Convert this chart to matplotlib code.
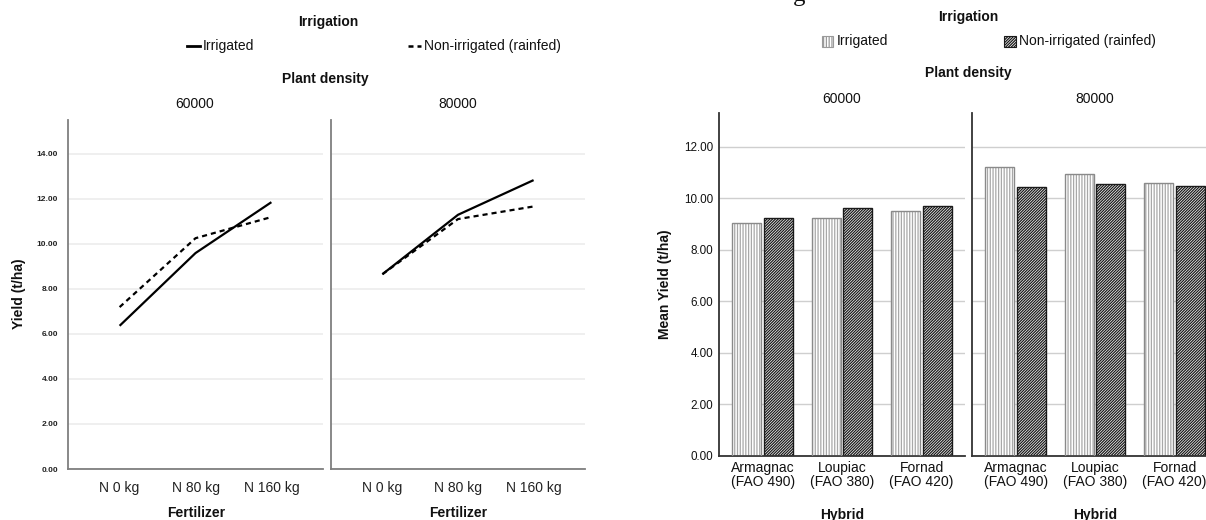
import matplotlib
matplotlib.use('Agg')
import matplotlib.pyplot as plt
from matplotlib.lines import Line2D
from matplotlib.patches import Rectangle
import numpy as np

plt.rcParams['font.family'] = ['Liberation Sans', 'DejaVu Sans']
plt.rcParams['hatch.linewidth'] = 0.9

# ---- data ----
fertilizer = ['N 0 kg', 'N 80 kg', 'N 160 kg']
densities = ['60000', '80000']
yield_irr_60 = [6.36, 9.59, 11.85]
yield_rain_60 = [7.19, 10.25, 11.19]
yield_irr_80 = [8.65, 11.29, 12.83]
yield_rain_80 = [8.65, 11.10, 11.66]

hybrids = ['Armagnac\n(FAO 490)', 'Loupiac\n(FAO 380)', 'Fornad\n(FAO 420)']
mean_irr_60 = [9.03, 9.22, 9.52]
mean_rain_60 = [9.22, 9.63, 9.71]
mean_irr_80 = [11.20, 10.94, 10.58]
mean_rain_80 = [10.42, 10.54, 10.46]

W, H = 1206, 520
fig = plt.figure(figsize=(W / 100, H / 100), dpi=100)

DOTS = '||||||'
STRIPES = '////////////'


def box(l, t, r, b):
    return [l / W, 1 - b / H, (r - l) / W, (b - t) / H]


def ftext(x, y, s, **kw):
    kw.setdefault('ha', 'center')
    kw.setdefault('va', 'center')
    kw.setdefault('fontsize', 10)
    kw.setdefault('color', '#111111')
    fig.text(x / W, 1 - y / H, s, **kw)


# ---- left chart: line plot ----
axL = [fig.add_axes(box(68, 120, 323, 469)), fig.add_axes(box(331, 120, 585, 469))]
line_data = [(yield_irr_60, yield_rain_60), (yield_irr_80, yield_rain_80)]
for i, ax in enumerate(axL):
    irr, rain = line_data[i]
    x = np.arange(len(fertilizer))
    ax.plot(x, irr, color='black', lw=1.6, solid_capstyle='butt')
    ax.plot(x, rain, color='black', lw=1.6, ls=(0, (2.3, 1.8)))
    ax.set_xlim(-0.68, 2.68)
    ax.set_ylim(0, 15.5)
    ax.set_yticks(np.arange(0, 15, 2))
    ax.yaxis.grid(True, color='#ececec', lw=1.2)
    ax.set_axisbelow(True)
    for s in ['top', 'right']:
        ax.spines[s].set_visible(False)
    for s in ['left', 'bottom']:
        ax.spines[s].set_color('#7f7f7f')
        ax.spines[s].set_linewidth(1.3)
    ax.set_xticks(x)
    ax.set_xticklabels(fertilizer, fontsize=10, color='#222222')
    ax.tick_params(axis='x', length=0, pad=8.5)
    ax.tick_params(axis='y', length=0, pad=7)
    if i == 0:
        ax.set_yticklabels([f'{v:.2f}' for v in ax.get_yticks()], fontsize=6,
                           fontweight='bold', color='#222222')
    else:
        ax.set_yticklabels([])

ftext(328, 22, 'Irrigation', fontweight='bold')
fig.add_artist(Line2D([187 / W, 200 / W], [1 - 46 / H, 1 - 46 / H], color='black',
                      lw=2, transform=fig.transFigure))
ftext(203, 46, 'Irrigated', ha='left')
fig.add_artist(Line2D([408 / W, 421 / W], [1 - 46 / H, 1 - 46 / H], color='black',
                      lw=1.8, ls=(0, (2, 1.6)), transform=fig.transFigure))
ftext(424, 46, 'Non-irrigated (rainfed)', ha='left')
ftext(325, 79, 'Plant density', fontweight='bold')
ftext(195, 104, densities[0])
ftext(458, 104, densities[1])
ftext(19, 294, 'Yield (t/ha)', fontweight='bold', rotation=90)
ftext(196, 513, 'Fertilizer', fontweight='bold')
ftext(458, 513, 'Fertilizer', fontweight='bold')

# ---- right chart: grouped bars ----
axR = [fig.add_axes(box(719.3, 113.3, 965, 455.7)), fig.add_axes(box(972.3, 113.3, 1218, 455.7))]
bar_data = [(mean_irr_60, mean_rain_60), (mean_irr_80, mean_rain_80)]
bw, off = 0.365, 0.198
for i, ax in enumerate(axR):
    irr, rain = bar_data[i]
    x = np.arange(len(hybrids))
    ax.bar(x - off, irr, width=bw, facecolor='white', edgecolor='#a8a8a8',
           hatch=DOTS, lw=0, zorder=2)
    ax.bar(x - off, irr, width=bw, fill=False, edgecolor='#8a8a8a', lw=1, zorder=3)
    ax.bar(x + off, rain, width=bw, facecolor='white', edgecolor='#1a1a1a',
           hatch=STRIPES, lw=1, zorder=2)
    ax.set_xlim(-0.545, 2.545)
    ax.set_ylim(0, 13.3)
    ax.set_yticks(np.arange(0, 13, 2))
    ax.yaxis.grid(True, color='#cfcfcf', lw=1)
    ax.set_axisbelow(True)
    for s in ['top', 'right']:
        ax.spines[s].set_visible(False)
    for s in ['left', 'bottom']:
        ax.spines[s].set_color('#333333')
        ax.spines[s].set_linewidth(1.3)
    ax.set_xticks(x)
    ax.set_xticklabels(hybrids, fontsize=10, color='#111111', linespacing=0.95)
    ax.tick_params(axis='x', length=0, pad=4)
    ax.tick_params(axis='y', length=0, pad=4.5)
    if i == 0:
        ax.set_yticklabels([f'{v:.2f}' for v in ax.get_yticks()], fontsize=8.4,
                           color='#111111')
    else:
        ax.set_yticklabels([])

ftext(968, 17, 'Irrigation', fontweight='bold')
fig.add_artist(Rectangle((822 / W, 1 - 47 / H), 11 / W, 11 / H, facecolor='white',
                         edgecolor='#9a9a9a', hatch=DOTS, lw=0.8, transform=fig.transFigure))
ftext(837, 41, 'Irrigated', ha='left')
fig.add_artist(Rectangle((1004 / W, 1 - 47 / H), 12 / W, 11 / H, facecolor='white',
                         edgecolor='#1a1a1a', hatch=STRIPES, lw=0.8, transform=fig.transFigure))
ftext(1019, 41, 'Non-irrigated (rainfed)', ha='left')
ftext(968, 73, 'Plant density', fontweight='bold')
ftext(842, 99, densities[0])
ftext(1095, 99, densities[1])
ftext(665, 284, 'Mean Yield (t/ha)', fontweight='bold', rotation=90)
ftext(842, 515, 'Hybrid', fontweight='bold')
ftext(1095, 515, 'Hybrid', fontweight='bold')

# cut-off caption fragment at the very top (as in the reference)
fig.text(793 / W, 1 - 1 / H, 'g', fontsize=18, family='Liberation Serif',
         ha='left', va='baseline', color='#111111')

fig.savefig('out.png', dpi=100)
